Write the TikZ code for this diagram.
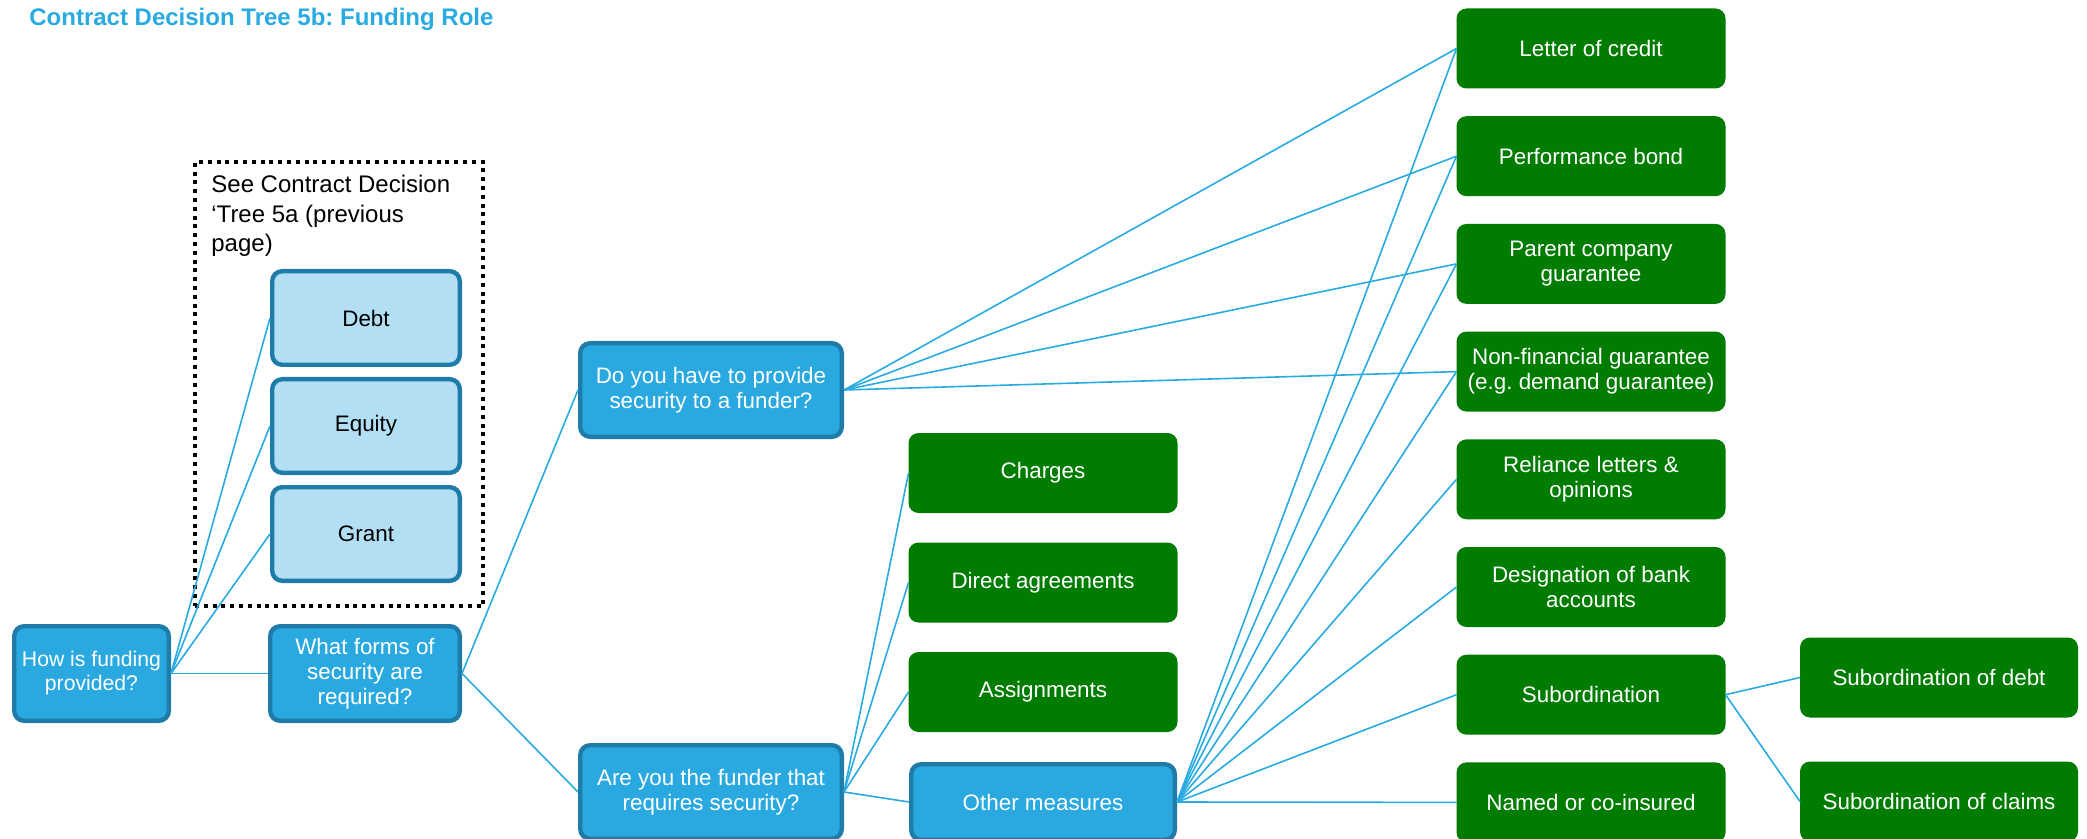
\documentclass[tikz,border=0pt]{standalone}
\usepackage{fontspec}
\setmainfont{Liberation Sans}
\frenchspacing
\usetikzlibrary{positioning}
\definecolor{qblue}{RGB}{41,169,224}
\definecolor{qedge}{RGB}{31,124,168}
\definecolor{qlight}{RGB}{178,223,243}
\definecolor{agreen}{RGB}{0,124,0}
\definecolor{linkblue}{RGB}{41,171,226}

\begin{document}
\begin{tikzpicture}[
		x=0.5pt, y=-0.5pt,
		node distance=13.85pt,
		boxfont/.style={font=\fontsize{11.2}{12.4}\selectfont},
		question/.style={boxfont, draw=qedge, fill=qblue, text=white, line width=2.2pt,
			rounded corners=5pt, align=center, inner sep=0pt},
		route/.style={question, fill=qlight, text=black, minimum width=93.8pt, minimum height=46.8pt},
		answer/.style={boxfont, fill=agreen, text=white, rounded corners=5pt, align=center,
			inner sep=0pt, outer sep=0pt, minimum width=134.5pt, minimum height=40pt},
		seebox/.style={draw, line width=2pt, dash pattern=on 2pt off 2.4pt},
		link/.style={draw=linkblue, line width=0.8pt}
	]
	\useasboundingbox (0,0) rectangle (2087,839);
		\node [anchor=west, inner sep=0pt, text=linkblue, font=\fontsize{12}{14}\selectfont\bfseries] (title) at (29,19) {Contract Decision Tree 5b: Funding Role};
		% previous tree
		\node [seebox, minimum width=144pt, minimum height=222pt] (prev) at (339,384) {};
		\node [anchor=north west, align=left, inner sep=0pt, font=\fontsize{12}{14.75}\selectfont] (prevnote) at (211,175) {See Contract Decision\\‘Tree 5a (previous\\page)};
		\node [route] (debt) at (366,318) {Debt};
		\node [route, below=5pt of debt] (equity) {Equity};
		\node [route, below=5pt of equity] (grant) {Grant};
		% questions
		\node [question, minimum width=77.3pt, minimum height=47.3pt, font=\fontsize{10.6}{12}\selectfont] (how) at (91.5,673.5) {How is funding\\provided?};
		\node [question, minimum width=94.8pt, minimum height=47.3pt] (forms) at (365,673.5) {What forms of\\security are\\required?};
		\node [question, minimum width=130.8pt, minimum height=46.8pt] (provide) at (711,390) {Do you have to provide\\security to a funder?};
		\node [question, minimum width=130.8pt, minimum height=46.8pt] (require) at (711,792) {Are you the funder that\\requires security?};
		% funder side
		\node [answer] (charges) at (1043,473) {Charges};
		\node [answer, below=14.75pt of charges] (direct) {Direct agreements};
		\node [answer, below=14.75pt of direct] (assign) {Assignments};
		\node [question, minimum width=131.8pt, minimum height=37.8pt, below=15pt of assign] (other) {Other measures};
		% measures
		\node [answer] (credit) at (1591,48.5) {Letter of credit};
		\node [answer, below=of credit] (bond) {Performance bond};
		\node [answer, below=of bond] (parent) {Parent company\\guarantee};
		\node [answer, below=of parent] (nonfin) {Non-financial guarantee\\(e.g. demand guarantee)};
		\node [answer, below=of nonfin] (reliance) {Reliance letters \&\\opinions};
		\node [answer, below=of reliance] (accounts) {Designation of bank\\accounts};
		\node [answer, below=of accounts] (subord) {Subordination};
		\node [answer, below=of subord] (insured) {Named or co-insured};
		\node [answer, minimum width=139pt] (subdebt) at (1939,677.5) {Subordination of debt};
		\node [answer, minimum width=139pt, below=22pt of subdebt] (subclaims) {Subordination of claims};
		\path[link]
			(how.east) edge (debt.west) edge (equity.west) edge (grant.west) edge (forms.west)
			(forms.east) edge (provide.west) edge (require.west)
			(provide.east) edge (credit.west) edge (bond.west) edge (parent.west) edge (nonfin.west)
			(require.east) edge (charges.west) edge (direct.west) edge (assign.west) edge (other.west)
			(other.east) edge (credit.west) edge (bond.west) edge (parent.west) edge (nonfin.west)
				edge (reliance.west) edge (accounts.west) edge (subord.west) edge (insured.west)
			(subord.east) edge (subdebt.west) edge (subclaims.west);
	\end{tikzpicture}
\end{document}
